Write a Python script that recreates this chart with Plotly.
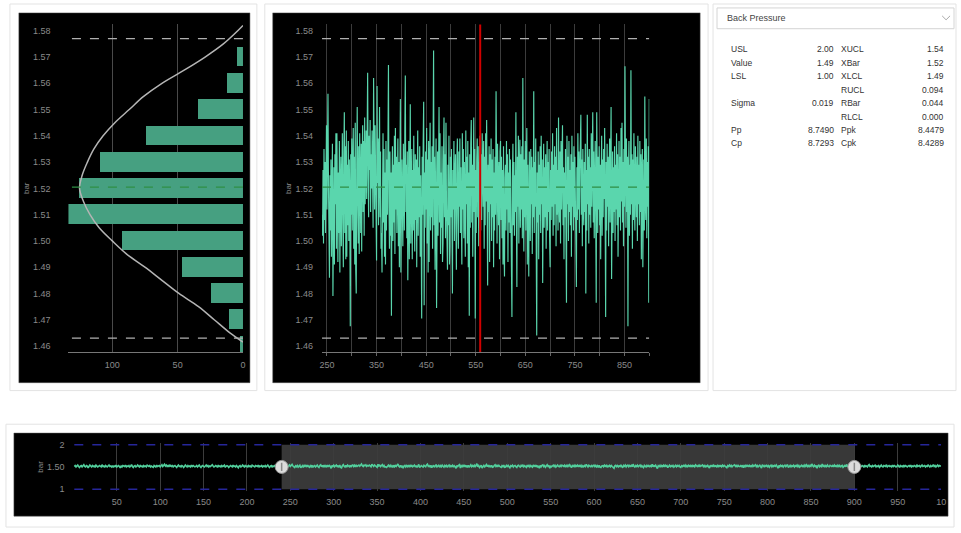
import plotly.graph_objects as go

W, H = 961, 533

# ---------------- data ----------------
window_start = 240          # first sample shown in the detail chart
cursor_x = 559              # red cursor position
usl, lsl = 2.00, 1.00
x_ucl, x_center, x_lcl = 1.577, 1.5205, 1.463

# samples 240..900 (detail window)
main_vals = [
    1.510, 1.502, 1.527, 1.499, 1.535, 1.508, 1.530, 1.503, 1.522, 1.544,
    1.512, 1.533, 1.556, 1.521, 1.497, 1.486, 1.525, 1.504, 1.531, 1.494,
    1.518, 1.537, 1.479, 1.508, 1.528, 1.491, 1.533, 1.514, 1.541, 1.497,
    1.541, 1.509, 1.492, 1.526, 1.503, 1.538, 1.488, 1.521, 1.532, 1.498,
    1.524, 1.541, 1.507, 1.490, 1.533, 1.549, 1.503, 1.536, 1.493, 1.542,
    1.494, 1.529, 1.506, 1.538, 1.500, 1.531, 1.515, 1.4675, 1.533, 1.510,
    1.539, 1.504, 1.527, 1.543, 1.497, 1.532, 1.491, 1.545, 1.489, 1.480,
    1.529, 1.551, 1.514, 1.499, 1.536, 1.495, 1.541, 1.517, 1.503, 1.537,
    1.496, 1.533, 1.544, 1.511, 1.538, 1.502, 1.547, 1.514, 1.530, 1.542,
    1.516, 1.535, 1.564, 1.524, 1.509, 1.540, 1.527, 1.546, 1.511, 1.533,
    1.520, 1.542, 1.528, 1.505, 1.562, 1.531, 1.512, 1.544, 1.525, 1.501,
    1.4925, 1.559, 1.522, 1.539, 1.506, 1.532, 1.551, 1.509, 1.534, 1.497,
    1.503, 1.488, 1.529, 1.541, 1.507, 1.535, 1.494, 1.526, 1.491, 1.538,
    1.504, 1.531, 1.510, 1.542, 1.567, 1.513, 1.497, 1.534, 1.502, 1.526,
    1.4715, 1.522, 1.536, 1.500, 1.529, 1.507, 1.540, 1.495, 1.543, 1.512,
    1.532, 1.503, 1.525, 1.539, 1.498, 1.530, 1.490, 1.536, 1.554, 1.488,
    1.507, 1.531, 1.513, 1.498, 1.537, 1.516, 1.504, 1.543, 1.563, 1.511,
    1.529, 1.501, 1.534, 1.485, 1.523, 1.538, 1.493, 1.532, 1.552, 1.499,
    1.512, 1.535, 1.493, 1.527, 1.504, 1.540, 1.514, 1.496, 1.533, 1.508,
    1.531, 1.490, 1.524, 1.542, 1.502, 1.528, 1.509, 1.536, 1.494, 1.525,
    1.503, 1.4705, 1.532, 1.510, 1.537, 1.553, 1.4755, 1.526, 1.505, 1.534,
    1.512, 1.543, 1.499, 1.531, 1.488, 1.538, 1.492, 1.527, 1.545, 1.504,
    1.530, 1.509, 1.536, 1.497, 1.524, 1.5725, 1.506, 1.532, 1.489, 1.523,
    1.539, 1.4745, 1.511, 1.534, 1.502, 1.528, 1.551, 1.507, 1.541, 1.495,
    1.526, 1.505, 1.536, 1.492, 1.499, 1.531, 1.547, 1.509, 1.533, 1.501,
    1.545, 1.514, 1.496, 1.489, 1.529, 1.506, 1.540, 1.491, 1.498, 1.532,
    1.509, 1.535, 1.503, 1.480, 1.527, 1.512, 1.538, 1.500, 1.525, 1.533,
    1.507, 1.489, 1.531, 1.539, 1.510, 1.497, 1.534, 1.513, 1.539, 1.503,
    1.528, 1.506, 1.491, 1.541, 1.512, 1.535, 1.501, 1.530, 1.508, 1.494,
    1.542, 1.514, 1.532, 1.499, 1.538, 1.490, 1.526, 1.4715, 1.533, 1.505,
    1.537, 1.546, 1.507, 1.529, 1.494, 1.534, 1.547, 1.511, 1.535, 1.4705,
    1.527, 1.503, 1.531, 1.539, 1.509, 1.536, 1.498, 1.525, 1.540, 1.512,
    1.504, 1.533, 1.508, 1.541, 1.529, 1.513, 1.538, 1.497, 1.532, 1.506,
    1.541, 1.515, 1.546, 1.502, 1.483, 1.529, 1.511, 1.536, 1.492, 1.533,
    1.514, 1.539, 1.500, 1.531, 1.509, 1.535, 1.490, 1.526, 1.504, 1.532,
    1.510, 1.557, 1.513, 1.499, 1.537, 1.515, 1.506, 1.530, 1.493, 1.534,
    1.538, 1.508, 1.532, 1.501, 1.527, 1.491, 1.536, 1.497, 1.4865, 1.524,
    1.529, 1.504, 1.538, 1.512, 1.533, 1.492, 1.526, 1.507, 1.535, 1.503,
    1.531, 1.510, 1.498, 1.471, 1.524, 1.537, 1.506, 1.530, 1.502, 1.525,
    1.511, 1.549, 1.508, 1.4825, 1.532, 1.513, 1.540, 1.499, 1.527, 1.5385,
    1.505, 1.533, 1.512, 1.536, 1.501, 1.562, 1.514, 1.496, 1.531, 1.509,
    1.538, 1.504, 1.526, 1.543, 1.491, 1.529, 1.507, 1.4865, 1.534, 1.512,
    1.500, 1.535, 1.514, 1.532, 1.495, 1.528, 1.509, 1.557, 1.503, 1.530,
    1.513, 1.539, 1.498, 1.464, 1.526, 1.507, 1.534, 1.493, 1.529, 1.510,
    1.536, 1.503, 1.540, 1.514, 1.531, 1.484, 1.512, 1.537, 1.505, 1.528,
    1.509, 1.533, 1.497, 1.525, 1.538, 1.504, 1.530, 1.511, 1.535, 1.501,
    1.490, 1.527, 1.508, 1.534, 1.513, 1.541, 1.502, 1.529, 1.506, 1.536,
    1.514, 1.532, 1.498, 1.543, 1.510, 1.527, 1.504, 1.547, 1.515, 1.507,
    1.534, 1.499, 1.538, 1.512, 1.531, 1.544, 1.506, 1.528, 1.493, 1.526,
    1.509, 1.535, 1.503, 1.4765, 1.540, 1.514, 1.532, 1.500, 1.538, 1.511,
    1.527, 1.506, 1.533, 1.494, 1.540, 1.513, 1.530, 1.504, 1.536, 1.509,
    1.532, 1.515, 1.501, 1.4825, 1.528, 1.508, 1.541, 1.512, 1.534, 1.503,
    1.526, 1.539, 1.548, 1.510, 1.531, 1.498, 1.535, 1.513, 1.506, 1.530,
    1.511, 1.537, 1.480, 1.527, 1.504, 1.548, 1.514, 1.532, 1.499, 1.535,
    1.510, 1.528, 1.505, 1.541, 1.513, 1.531, 1.549, 1.507, 1.534, 1.501,
    1.525, 1.538, 1.509, 1.4765, 1.549, 1.527, 1.503, 1.532, 1.512, 1.536,
    1.506, 1.529, 1.493, 1.524, 1.540, 1.502, 1.531, 1.509, 1.535, 1.516,
    1.543, 1.511, 1.471, 1.530, 1.504, 1.537, 1.513, 1.532, 1.498, 1.525,
    1.539, 1.507, 1.531, 1.551, 1.4855, 1.524, 1.534, 1.503, 1.528, 1.511,
    1.536, 1.500, 1.529, 1.512, 1.541, 1.506, 1.533, 1.494, 1.526, 1.538,
    1.509, 1.532, 1.504, 1.543, 1.515, 1.545, 1.507, 1.530, 1.498, 1.535,
    1.513, 1.5665, 1.527, 1.505, 1.539, 1.511, 1.532, 1.4675, 1.526, 1.538,
    1.502, 1.529, 1.510, 1.565, 1.514, 1.533, 1.497, 1.531, 1.508, 1.541,
    1.513, 1.504, 1.536, 1.517, 1.509, 1.532, 1.500, 1.540, 1.514, 1.529,
    1.506, 1.538, 1.511, 1.533, 1.493, 1.526, 1.535, 1.490, 1.512, 1.531,
    1.504, 1.555, 1.515, 1.508, 1.539, 1.501, 1.530, 1.513, 1.536, 1.4765,
    1.554,
]

# samples before the window (overview only)
pre_vals = [
    1.51, 1.53, 1.50, 1.52, 1.54, 1.51, 1.49, 1.52, 1.53, 1.50, 1.52, 1.55, 1.51, 1.50, 1.53, 1.52, 1.48, 1.51, 1.54, 1.52,
    1.50, 1.53, 1.51, 1.52, 1.49, 1.54, 1.52, 1.50, 1.51, 1.53, 1.52, 1.50, 1.55, 1.51, 1.52, 1.49, 1.53, 1.51, 1.50, 1.52,
    1.54, 1.51, 1.52, 1.50, 1.53, 1.49, 1.52, 1.51, 1.54, 1.50, 1.52, 1.53, 1.51, 1.48, 1.52, 1.50, 1.53, 1.52, 1.51, 1.54,
    1.50, 1.52, 1.51, 1.53, 1.50, 1.52, 1.55, 1.51, 1.49, 1.52, 1.53, 1.50, 1.51, 1.54, 1.52, 1.50, 1.53, 1.51, 1.52, 1.49,
    1.53, 1.51, 1.52, 1.50, 1.54, 1.52, 1.51, 1.53, 1.50, 1.52, 1.51, 1.49, 1.53, 1.52, 1.50, 1.54, 1.51, 1.52, 1.53, 1.50,
    1.52, 1.55, 1.51, 1.53, 1.56, 1.52, 1.54, 1.51, 1.53, 1.50, 1.55, 1.52, 1.51, 1.54, 1.50, 1.52, 1.53, 1.51, 1.49, 1.52,
    1.54, 1.51, 1.52, 1.50, 1.53, 1.52, 1.49, 1.51, 1.54, 1.52, 1.50, 1.53, 1.51, 1.52, 1.50, 1.54, 1.51, 1.53, 1.52, 1.50,
    1.51, 1.53, 1.50, 1.52, 1.54, 1.51, 1.49, 1.52, 1.53, 1.51, 1.50, 1.52, 1.54, 1.51, 1.53, 1.50, 1.52, 1.51, 1.53, 1.55,
    1.52, 1.50, 1.51, 1.53, 1.52, 1.49, 1.54, 1.51, 1.52, 1.50, 1.53, 1.51, 1.52, 1.54, 1.50, 1.51, 1.53, 1.52, 1.49, 1.51,
    1.53, 1.52, 1.50, 1.54, 1.51, 1.52, 1.50, 1.53, 1.51, 1.48, 1.52, 1.53, 1.50, 1.51, 1.54, 1.52, 1.50, 1.53, 1.51, 1.52,
    1.50, 1.53, 1.51, 1.52, 1.49, 1.54, 1.52, 1.51, 1.50, 1.53, 1.52, 1.51, 1.54, 1.50, 1.52, 1.51, 1.53, 1.50, 1.52, 1.51,
    1.53, 1.50, 1.52, 1.54, 1.51, 1.49, 1.52, 1.53, 1.50, 1.52, 1.51, 1.53, 1.52, 1.50, 1.54, 1.51, 1.52, 1.50, 1.53,
]

# samples after the window (overview only)
post_vals = [
    1.52, 1.50, 1.53, 1.51, 1.54, 1.52, 1.50, 1.51, 1.53, 1.52, 1.49, 1.54, 1.51, 1.52, 1.50, 1.53, 1.55, 1.51, 1.52, 1.50,
    1.53, 1.51, 1.52, 1.54, 1.50, 1.52, 1.51, 1.53, 1.49, 1.52, 1.54, 1.51, 1.50, 1.53, 1.52, 1.51, 1.55, 1.50, 1.52, 1.53,
    1.51, 1.52, 1.50, 1.54, 1.51, 1.53, 1.52, 1.50, 1.51, 1.54, 1.52, 1.49, 1.53, 1.51, 1.52, 1.50, 1.54, 1.51, 1.53, 1.52,
    1.50, 1.52, 1.53, 1.51, 1.54, 1.50, 1.52, 1.51, 1.53, 1.52, 1.50, 1.55, 1.51, 1.52, 1.53, 1.50, 1.52, 1.54, 1.51, 1.52,
    1.53, 1.50, 1.52, 1.51, 1.54, 1.52, 1.50, 1.53, 1.51, 1.52, 1.55, 1.51, 1.53, 1.50, 1.52, 1.54, 1.51, 1.53, 1.52, 1.52,
]

# histogram (bin centre -> count)
hist_levels = [1.46, 1.47, 1.48, 1.49, 1.50, 1.51, 1.52, 1.53, 1.54, 1.55, 1.56, 1.57]
hist_counts = [2, 10, 24, 46, 92, 134, 125, 109, 74, 34, 12, 4]

# fitted distribution curve
curve_levels = [1.4615, 1.465, 1.47, 1.475, 1.48, 1.485, 1.49, 1.495, 1.50, 1.505, 1.51, 1.515, 1.52,
                1.525, 1.53, 1.535, 1.54, 1.545, 1.55, 1.555, 1.56, 1.565, 1.57, 1.575, 1.58, 1.582]
curve_counts = [0, 10, 22, 34, 49, 62, 75, 89, 100, 110, 117, 122, 125,
                123, 119, 114, 107, 98, 87, 76, 62, 45, 29, 15, 4, 0]

y_ticks = [1.46, 1.47, 1.48, 1.49, 1.50, 1.51, 1.52, 1.53, 1.54, 1.55, 1.56, 1.57, 1.58]
hist_x_ticks = [100, 50, 0]
main_x_ticks = list(range(250, 901, 50))
main_x_labels = ["250", "", "350", "", "450", "", "550", "", "650", "", "750", "", "850", ""]
ov_x_ticks = list(range(50, 1001, 50))
ov_x_labels = [str(v) for v in range(50, 1000, 50)] + ["10"]
ov_y_ticks = [1, 1.5, 2]
ov_y_labels = ["1", "1.50", "2"]

selector_label = "Back Pressure"
stat_labels1 = ["USL", "Value", "LSL", "", "Sigma", "", "Pp", "Cp"]
stat_values1 = ["2.00", "1.49", "1.00", "", "0.019", "", "8.7490", "8.7293"]
stat_labels2 = ["XUCL", "XBar", "XLCL", "RUCL", "RBar", "RLCL", "Ppk", "Cpk"]
stat_values2 = ["1.54", "1.52", "1.49", "0.094", "0.044", "0.000", "8.4479", "8.4289"]

# ---------------- derived ----------------
main_x = list(range(window_start, window_start + len(main_vals)))
window_end = main_x[-1]
ov_vals = pre_vals + main_vals + post_vals
ov_x = list(range(window_start - len(pre_vals), window_start - len(pre_vals) + len(ov_vals)))

FONT = "Liberation Sans, Arial, sans-serif"
TICK_C = "#8a8a8a"
GRID_C = "#3c3c3c"
LINE_C = "#5ad6ad"


def px(x):
    return x / W


def py(y):
    return 1 - y / H


def prect(x0, y0, x1, y1, **kw):
    return dict(type="rect", xref="paper", yref="paper",
                x0=px(x0), x1=px(x1), y0=py(y1), y1=py(y0), **kw)


fig = go.Figure()

# histogram
fig.add_trace(go.Bar(y=hist_levels, x=hist_counts, orientation="h", width=0.0075,
                     marker=dict(color="#46a081", line=dict(width=0)),
                     xaxis="x", yaxis="y", hoverinfo="skip"))
fig.add_trace(go.Scatter(x=curve_counts, y=curve_levels, mode="lines",
                         line=dict(color="#b4b4b4", width=1.5, shape="spline"),
                         xaxis="x", yaxis="y", hoverinfo="skip"))
# detail line
fig.add_trace(go.Scatter(x=main_x, y=main_vals, mode="lines",
                         line=dict(color=LINE_C, width=1.15),
                         xaxis="x2", yaxis="y2", hoverinfo="skip"))
# overview line
fig.add_trace(go.Scatter(x=ov_x, y=ov_vals, mode="lines",
                         line=dict(color="#52cf9c", width=1.6),
                         xaxis="x3", yaxis="y3", hoverinfo="skip"))
# range handles
fig.add_trace(go.Scatter(x=[window_start, window_end], y=[1.5, 1.5], mode="markers",
                         marker=dict(symbol="circle", size=13, color="#dcdcdc",
                                     line=dict(color="#9a9a9a", width=1)),
                         xaxis="x3", yaxis="y3", hoverinfo="skip"))
fig.add_trace(go.Scatter(x=[window_start, window_end], y=[1.5, 1.5], mode="markers",
                         marker=dict(symbol="line-ns", size=6,
                                     line=dict(color="#8a8a8a", width=1.5)),
                         xaxis="x3", yaxis="y3", hoverinfo="skip"))

shapes = []
# cards
for r in [(7, 1, 256, 392), (264, 1, 711, 392), (716, 1, 961, 392), (3, 426, 959, 530)]:
    shapes.append(prect(*r, fillcolor="white", line=dict(color="#e3e3e3", width=1), layer="below"))
# black panels
for r in [(16, 10, 249, 384), (272, 10, 703, 384), (11, 435, 953, 519)]:
    shapes.append(prect(*r, fillcolor="black", line=dict(color="#555", width=0.5), layer="below"))
# dropdown
shapes.append(prect(720, 5, 959, 26, fillcolor="white", line=dict(color="#d4d4d4", width=1), layer="below"))
# chevron
shapes.append(dict(type="path", xref="paper", yref="paper",
                   path=f"M {px(947)} {py(13)} L {px(951)} {py(17)} L {px(955)} {py(13)}",
                   line=dict(color="#aaaaaa", width=1)))

# histogram reference lines
for yv, col in [(x_ucl, "#b0b0b0"), (x_lcl, "#b0b0b0"), (x_center, "#2f8f45")]:
    shapes.append(dict(type="line", xref="x domain", yref="y", x0=0.02, x1=1, y0=yv, y1=yv,
                       line=dict(color=col, width=1.3, dash="dash"), layer="above"))
# detail reference lines
for yv, col in [(x_ucl, "#b0b0b0"), (x_lcl, "#b0b0b0"), (x_center, "#2f8f45")]:
    shapes.append(dict(type="line", xref="x2", yref="y2", x0=window_start, x1=window_end, y0=yv, y1=yv,
                       line=dict(color=col, width=1.3, dash="dash"), layer="above"))
# cursor
shapes.append(dict(type="line", xref="x2", yref="y2 domain", x0=cursor_x, x1=cursor_x, y0=0, y1=1,
                   line=dict(color="#d00000", width=2), layer="above"))
# overview window + spec lines
shapes.append(dict(type="rect", xref="x3", yref="y3", x0=window_start, x1=window_end, y0=lsl, y1=usl,
                   fillcolor="rgba(255,255,255,0.22)", line=dict(width=0), layer="below"))
for yv in [usl, lsl]:
    shapes.append(dict(type="line", xref="x3", yref="y3", x0=ov_x[0], x1=ov_x[-1], y0=yv, y1=yv,
                       line=dict(color="#26269a", width=1.5, dash="dash"), layer="above"))

annotations = []
annotations.append(dict(xref="paper", yref="paper", x=px(728), y=py(15.5), xanchor="left", yanchor="middle",
                        text=selector_label, showarrow=False, font=dict(family=FONT, size=9, color="#444")))
row_y0, row_dy = 47, 13.57
for i in range(len(stat_labels2)):
    yy = py(row_y0 + i * row_dy)
    for txt, xx, anc in [(stat_labels1[i], 732, "left"), (stat_values1[i], 840, "right"),
                         (stat_labels2[i], 843, "left"), (stat_values2[i], 951, "right")]:
        if txt:
            annotations.append(dict(xref="paper", yref="paper", x=px(xx), y=yy, xanchor=anc,
                                    yanchor="middle", text=txt, showarrow=False,
                                    font=dict(family=FONT, size=8.5, color="#333")))

tickfont = dict(family=FONT, size=9, color=TICK_C)
titlefont = dict(family=FONT, size=8, color=TICK_C)
ydom = [py(353), py(21.7)]
y_range = [1.4577, 1.5824]
y_text = [f"{v:.2f}" for v in y_ticks]

fig.update_layout(
    width=W, height=H, margin=dict(l=0, r=0, t=0, b=0),
    paper_bgcolor="white", plot_bgcolor="rgba(0,0,0,0)",
    showlegend=False, font=dict(family=FONT),
    shapes=shapes, annotations=annotations, bargap=0,
    xaxis=dict(domain=[px(66), px(242)], range=[133.5, 0], tickvals=hist_x_ticks,
               tickfont=tickfont, showgrid=True, gridcolor="#4a4a4a", gridwidth=1,
               showline=True, linecolor="#777", zeroline=False, anchor="y", ticks="",
               ticklabelstandoff=4),
    yaxis=dict(domain=ydom, range=y_range, tickvals=y_ticks, ticktext=y_text,
               tickfont=tickfont, showgrid=False, zeroline=False, anchor="x", ticks="",
               ticklabelstandoff=17, title=dict(text="bar", font=titlefont, standoff=2)),
    xaxis2=dict(domain=[px(321.7), px(651.7)], range=[window_start, 900], tickvals=main_x_ticks,
                ticktext=main_x_labels, tickfont=tickfont, showgrid=True, gridcolor=GRID_C,
                showline=True, linecolor="#777", zeroline=False, anchor="y2",
                ticks="outside", ticklen=3, tickcolor="#666", ticklabelstandoff=1),
    yaxis2=dict(domain=ydom, range=y_range, tickvals=y_ticks, ticktext=y_text,
                tickfont=tickfont, showgrid=False, zeroline=False, anchor="x2", ticks="",
                ticklabelstandoff=8, title=dict(text="bar", font=titlefont, standoff=2)),
    xaxis3=dict(domain=[px(71), px(946)], range=[0, 1000], tickvals=ov_x_ticks, ticktext=ov_x_labels,
                tickfont=tickfont, showgrid=True, gridcolor=GRID_C, showline=False,
                zeroline=False, anchor="y3", ticks="", ticklabelstandoff=4),
    yaxis3=dict(domain=[py(493.5), py(444.9)], range=[0.96, 2.04], tickvals=ov_y_ticks,
                ticktext=ov_y_labels, tickfont=tickfont, showgrid=False, zeroline=False,
                anchor="x3", ticks="", ticklabelstandoff=8,
                title=dict(text="bar", font=titlefont, standoff=2)),
)

fig.write_html("out.html", config={"displayModeBar": False},
               post_script="document.body.style.margin='0px';")
